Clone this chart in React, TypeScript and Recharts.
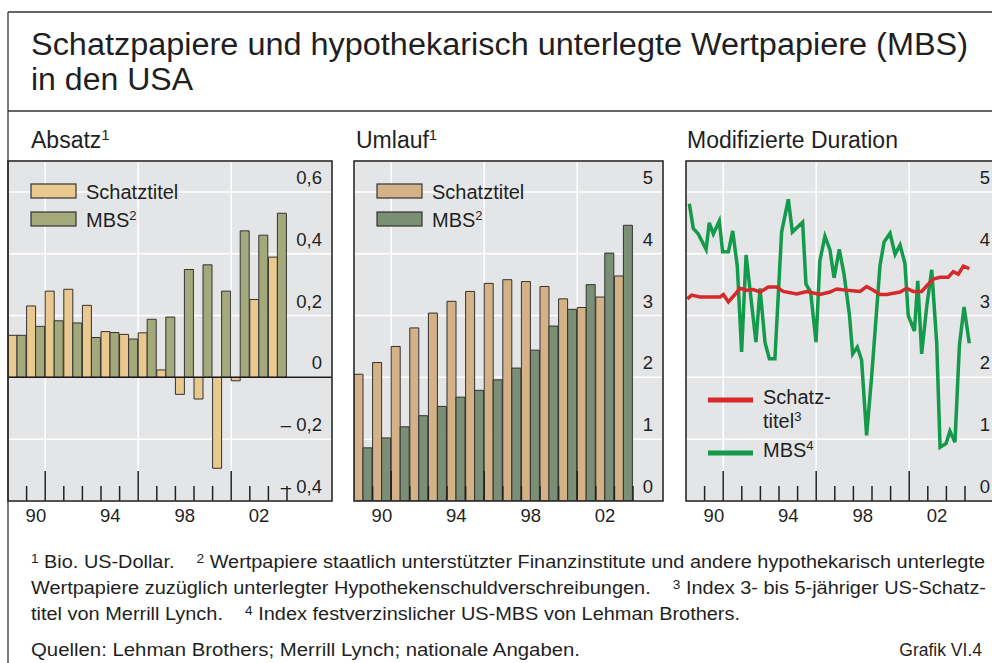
import React from "react";
import {
  BarChart,
  Bar,
  LineChart,
  Line,
  XAxis,
  YAxis,
  CartesianGrid,
  ReferenceLine,
} from "recharts";

// years shown in the two bar panels (one pair of bars per year)
const years = [1989, 1990, 1991, 1992, 1993, 1994, 1995, 1996, 1997, 1998, 1999, 2000, 2001, 2002, 2003];
const labelYears = [1990, 1994, 1998, 2002];
const majorYears = [1990, 1995, 2000]; // tall tick at the end of these years

// Absatz, Bio. US-Dollar
const salesTreasury = [0.136, 0.231, 0.279, 0.285, 0.233, 0.148, 0.139, 0.144, 0.024, -0.055, -0.07, -0.294, -0.011, 0.252, 0.389];
const salesMbs = [0.136, 0.165, 0.183, 0.176, 0.129, 0.145, 0.124, 0.188, 0.195, 0.349, 0.364, 0.279, 0.474, 0.46, 0.531];

// Umlauf, Bio. US-Dollar
const stockTreasury = [2.05, 2.24, 2.5, 2.8, 3.04, 3.23, 3.39, 3.52, 3.58, 3.55, 3.47, 3.27, 3.13, 3.3, 3.64];
const stockMbs = [0.86, 1.02, 1.2, 1.38, 1.53, 1.68, 1.79, 1.96, 2.15, 2.44, 2.83, 3.1, 3.5, 4.01, 4.46];

// Modifizierte Duration
const treasuryDates = [
  1989.07, 1989.3, 1989.75, 1990.83, 1991.01, 1991.28, 1991.63, 1991.9, 1992.26, 1992.62, 1992.98, 1993.43,
  1993.87, 1994.23, 1994.95, 1995.49, 1996.2, 1996.74, 1997.1, 1997.64, 1998.36, 1998.71, 1999.07, 1999.43,
  1999.79, 2000.51, 2000.86, 2001.22, 2001.67, 2001.97, 2002.3, 2002.66, 2003.1, 2003.37, 2003.64, 2003.91, 2004.23,
];
const treasuryDuration = [
  3.27, 3.33, 3.3, 3.3, 3.34, 3.22, 3.34, 3.44, 3.41, 3.42, 3.38, 3.46,
  3.46, 3.39, 3.35, 3.39, 3.34, 3.38, 3.43, 3.41, 3.39, 3.47, 3.41, 3.34,
  3.34, 3.38, 3.44, 3.39, 3.39, 3.49, 3.59, 3.62, 3.62, 3.71, 3.67, 3.8, 3.76,
];
const mbsDates = [
  1989.18, 1989.39, 1989.66, 1990.08, 1990.25, 1990.47, 1990.79, 1990.97, 1991.28, 1991.51, 1991.76, 1991.99,
  1992.23, 1992.76, 1992.98, 1993.25, 1993.48, 1993.78, 1994.14, 1994.5, 1994.72, 1995.27, 1995.45, 1995.7,
  1995.99, 1996.2, 1996.47, 1996.74, 1996.96, 1997.24, 1997.49, 1997.78, 1997.96, 1998.21, 1998.44, 1998.71,
  1998.98, 1999.43, 1999.65, 1999.97, 2000.24, 2000.51, 2000.77, 2000.95, 2001.28, 2001.46, 2001.67, 2001.94,
  2002.21, 2002.48, 2002.66, 2002.98, 2003.19, 2003.46, 2003.7, 2003.95, 2004.23,
];
const mbsDuration = [
  4.81, 4.41, 4.32, 4.07, 4.5, 4.32, 4.53, 4.03, 4.03, 4.37, 3.79, 2.41,
  3.98, 2.57, 3.44, 2.56, 2.3, 2.3, 4.35, 4.88, 4.35, 4.51, 3.51, 3.38,
  2.57, 3.89, 4.28, 4.06, 3.61, 4.07, 3.68, 3.03, 2.38, 2.49, 2.28, 1.06,
  2.01, 3.81, 4.19, 4.33, 3.99, 4.14, 3.84, 3.0, 2.75, 3.56, 2.38, 3.14,
  3.74, 2.55, 0.87, 0.93, 1.13, 0.95, 2.52, 3.14, 2.55,
];

const salesData = years.map((year, i) => ({ year, treasury: salesTreasury[i], mbs: salesMbs[i] }));
const stockData = years.map((year, i) => ({ year, treasury: stockTreasury[i], mbs: stockMbs[i] }));
const treasuryLine = treasuryDates.map((t, i) => ({ t, v: treasuryDuration[i] }));
const mbsLine = mbsDates.map((t, i) => ({ t, v: mbsDuration[i] }));

const FONT = '"Liberation Sans", Arial, Helvetica, sans-serif';
const INK = "#1f1f1f";
const PANEL_BG = "#e4e5e7";
const PLOT_TOP = 161;
const PLOT_H = 340;
const CHART_H = 370;
const YEAR_W = 18.6;
const HALF = YEAR_W / 2;

const fmtSigned = (v: number) =>
  v === 0 ? "0" : `${v < 0 ? "– " : ""}${Math.abs(v).toFixed(1).replace(".", ",")}`;

function yTick(width: number, fmt: (v: number) => string) {
  return (props: any) => (
    <text x={width - 10} y={props.y - 8} textAnchor="end" fontSize={18.5} fill={INK} fontFamily={FONT}>
      {fmt(Number(props.payload.value))}
    </text>
  );
}

function yearMark(bx: number, year: number, lx: number) {
  const major = majorYears.includes(year);
  return (
    <g>
      <line x1={bx} x2={bx} y1={PLOT_H - (major ? 30 : 15)} y2={PLOT_H} stroke="#222" strokeWidth={1.5} />
      {labelYears.includes(year) && (
        <text x={lx} y={PLOT_H + 21} textAnchor="middle" fontSize={18.5} fill={INK} fontFamily={FONT}>
          {String(year).slice(2)}
        </text>
      )}
    </g>
  );
}

// category axis: tick sits at the centre of the year, mark goes at its end
const CategoryTick = (props: any) => yearMark(props.x + HALF, Number(props.payload.value), props.x);
// number axis: tick is a year boundary, label belongs to the year before it
const BoundaryTick = (props: any) => {
  const year = Number(props.payload.value) - 1;
  return yearMark(props.x, year, props.x - HALF);
};

const gridX = [2 * YEAR_W, 7 * YEAR_W, 12 * YEAR_W];

interface BarPanelProps {
  left: number;
  width: number;
  data: any[];
  domain: [number, number];
  ticks: number[];
  fmt: (v: number) => string;
  tan: string;
  green: string;
  zero?: boolean;
}

function BarPanel({ left, width, data, domain, ticks, fmt, tan, green, zero }: BarPanelProps) {
  return (
    <div style={{ position: "absolute", left, top: PLOT_TOP }}>
      <BarChart
        width={width}
        height={CHART_H}
        data={data}
        margin={{ top: 0, right: 0, bottom: 0, left: 0 }}
        barCategoryGap={0}
        barGap={0}
      >
        <CartesianGrid fill={PANEL_BG} stroke="#ffffff" strokeWidth={1.5} verticalPoints={gridX} />
        <XAxis
          dataKey="year"
          type="category"
          height={CHART_H - PLOT_H}
          padding={{ left: 0, right: width - years.length * YEAR_W }}
          axisLine={false}
          tickLine={false}
          interval={0}
          tick={CategoryTick}
        />
        <YAxis
          orientation="right"
          mirror
          domain={domain}
          ticks={ticks}
          allowDataOverflow
          axisLine={false}
          tickLine={false}
          tick={yTick(width, fmt)}
        />
        <Bar dataKey="treasury" fill={tan} stroke="#333" strokeWidth={1} isAnimationActive={false} />
        <Bar dataKey="mbs" fill={green} stroke="#333" strokeWidth={1} isAnimationActive={false} />
        {zero && <ReferenceLine y={0} stroke="#1a1a1a" strokeWidth={1.5} />}
      </BarChart>
    </div>
  );
}

function DurationPanel({ left, width }: { left: number; width: number }) {
  const boundaries = years.map((y) => y + 1);
  return (
    <div style={{ position: "absolute", left, top: PLOT_TOP }}>
      <LineChart width={width} height={CHART_H} margin={{ top: 0, right: 0, bottom: 0, left: 0 }}>
        <CartesianGrid fill={PANEL_BG} stroke="#ffffff" strokeWidth={1.5} verticalPoints={gridX} />
        <XAxis
          dataKey="t"
          type="number"
          domain={[1989, 1989 + width / YEAR_W]}
          ticks={boundaries}
          allowDataOverflow
          height={CHART_H - PLOT_H}
          axisLine={false}
          tickLine={false}
          interval={0}
          tick={BoundaryTick}
        />
        <YAxis
          orientation="right"
          mirror
          domain={[0, 5.5]}
          ticks={[0, 1, 2, 3, 4, 5]}
          allowDataOverflow
          axisLine={false}
          tickLine={false}
          tick={yTick(width, (v) => String(v))}
        />
        <Line data={mbsLine} dataKey="v" type="linear" stroke="#139a4a" strokeWidth={3.5} dot={false} isAnimationActive={false} />
        <Line data={treasuryLine} dataKey="v" type="linear" stroke="#d42a2c" strokeWidth={3.5} dot={false} isAnimationActive={false} />
      </LineChart>
    </div>
  );
}

const sup = (s: string, size: number, lift: number) => [
  <tspan key="a" fontSize={size} dy={-lift}>{s}</tspan>,
];

export default function App() {
  const line = "#333";
  return (
    <div
      style={{
        position: "fixed",
        left: 0,
        top: 0,
        width: 992,
        height: 663,
        overflow: "hidden",
        background: "#fff",
        fontFamily: FONT,
      }}
    >
      <BarPanel
        left={8}
        width={324}
        data={salesData}
        domain={[-0.4, 0.7]}
        ticks={[-0.4, -0.2, 0, 0.2, 0.4, 0.6]}
        fmt={fmtSigned}
        tan="#eac98f"
        green="#a4a97c"
        zero
      />
      <BarPanel
        left={354}
        width={309}
        data={stockData}
        domain={[0, 5.5]}
        ticks={[0, 1, 2, 3, 4, 5]}
        fmt={(v) => String(v)}
        tan="#d4b187"
        green="#7b8e76"
      />
      <DurationPanel left={686} width={314} />

      <svg
        width={992}
        height={663}
        style={{ position: "absolute", left: 0, top: 0, pointerEvents: "none" }}
        fontFamily={FONT}
        fill={INK}
      >
        {/* frame */}
        <line x1={8} y1={12} x2={992} y2={12} stroke={line} strokeWidth={1.3} />
        <line x1={8} y1={111} x2={992} y2={111} stroke={line} strokeWidth={1.3} />
        <line x1={8} y1={12} x2={8} y2={663} stroke={line} strokeWidth={1.3} />
        <rect x={8} y={PLOT_TOP} width={324} height={PLOT_H} fill="none" stroke="#2a2a2a" strokeWidth={1.6} />
        <rect x={354} y={PLOT_TOP} width={309} height={PLOT_H} fill="none" stroke="#2a2a2a" strokeWidth={1.6} />
        <rect x={686} y={PLOT_TOP} width={314} height={PLOT_H} fill="none" stroke="#2a2a2a" strokeWidth={1.6} />

        {/* titles */}
        <text x={31} y={55} fontSize={31} textLength={937} lengthAdjust="spacingAndGlyphs">
          Schatzpapiere und hypothekarisch unterlegte Wertpapiere (MBS)
        </text>
        <text x={31} y={90} fontSize={31} textLength={162} lengthAdjust="spacingAndGlyphs">
          in den USA
        </text>
        <text x={31} y={148} fontSize={23}>
          Absatz{sup("1", 15, 8)}
        </text>
        <text x={356} y={148} fontSize={23}>
          Umlauf{sup("1", 15, 8)}
        </text>
        <text x={687} y={148} fontSize={23}>
          Modifizierte Duration
        </text>

        {/* legends */}
        <rect x={31} y={184} width={45} height={14} fill="#eac98f" stroke="#333" strokeWidth={1.2} />
        <rect x={31} y={212} width={45} height={14} fill="#a4a97c" stroke="#333" strokeWidth={1.2} />
        <text x={86} y={199} fontSize={20}>Schatztitel</text>
        <text x={86} y={227} fontSize={20}>
          MBS{sup("2", 13, 7)}
        </text>
        <rect x={377} y={184} width={45} height={14} fill="#d4b187" stroke="#333" strokeWidth={1.2} />
        <rect x={377} y={212} width={45} height={14} fill="#7b8e76" stroke="#333" strokeWidth={1.2} />
        <text x={432} y={199} fontSize={20}>Schatztitel</text>
        <text x={432} y={227} fontSize={20}>
          MBS{sup("2", 13, 7)}
        </text>
        <line x1={708} y1={400} x2={753} y2={400} stroke="#d42a2c" strokeWidth={5} />
        <line x1={708} y1={453} x2={753} y2={453} stroke="#139a4a" strokeWidth={5} />
        <text x={763} y={404} fontSize={20}>Schatz-</text>
        <text x={763} y={428} fontSize={20}>
          titel{sup("3", 13, 7)}
        </text>
        <text x={763} y={457} fontSize={20}>
          MBS{sup("4", 13, 7)}
        </text>

        {/* footnotes */}
        <text x={31} y={568} fontSize={17.5} textLength={954} lengthAdjust="spacingAndGlyphs" style={{ whiteSpace: "pre" }}>
          <tspan fontSize={12} dy={-5}>1</tspan>
          <tspan dy={5}>{" Bio. US-Dollar.    "}</tspan>
          <tspan fontSize={12} dy={-5}>2</tspan>
          <tspan dy={5}>{" Wertpapiere staatlich unterstützter Finanzinstitute und andere hypothekarisch unterlegte"}</tspan>
        </text>
        <text x={31} y={594} fontSize={17.5} textLength={955} lengthAdjust="spacingAndGlyphs" style={{ whiteSpace: "pre" }}>
          <tspan>{"Wertpapiere zuzüglich unterlegter Hypothekenschuldverschreibungen.    "}</tspan>
          <tspan fontSize={12} dy={-5}>3</tspan>
          <tspan dy={5}>{" Index 3- bis 5-jähriger US-Schatz-"}</tspan>
        </text>
        <text x={31} y={620} fontSize={17.5} textLength={709} lengthAdjust="spacingAndGlyphs" style={{ whiteSpace: "pre" }}>
          <tspan>{"titel von Merrill Lynch.    "}</tspan>
          <tspan fontSize={12} dy={-5}>4</tspan>
          <tspan dy={5}>{" Index festverzinslicher US-MBS von Lehman Brothers."}</tspan>
        </text>
        <text x={31} y={656} fontSize={17.5} textLength={549} lengthAdjust="spacingAndGlyphs">
          Quellen: Lehman Brothers; Merrill Lynch; nationale Angaben.
        </text>
        <text x={982} y={656} fontSize={17.5} textAnchor="end">
          Grafik VI.4
        </text>
      </svg>
    </div>
  );
}
